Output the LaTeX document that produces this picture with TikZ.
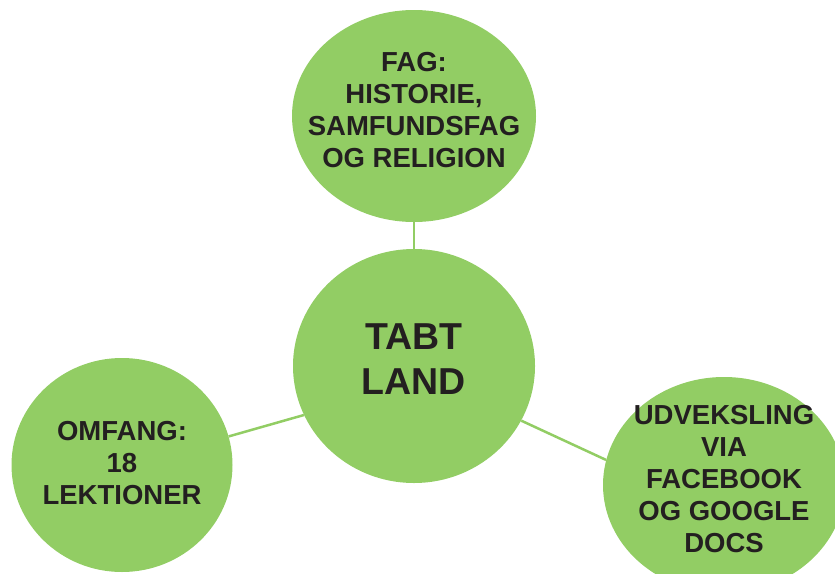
\documentclass[tikz,border=0pt]{standalone}
\usepackage{fontspec}
\setmainfont{Liberation Sans}
\usetikzlibrary{shapes.geometric}
\definecolor{leaf}{HTML}{92CD64}
\definecolor{ink}{HTML}{231F20}
\tikzset{
  blob/.style={ellipse, fill=leaf, draw=none, inner sep=0pt},
  lbl/.style={text=ink, align=center, inner sep=0pt, font=\fontsize{27.5}{32}\selectfont\bfseries},
  biglbl/.style={text=ink, align=center, inner sep=0pt, font=\fontsize{37.5}{45}\selectfont\bfseries},
  link/.style={draw=leaf, line width=2.5pt}
}
\begin{document}
\begin{tikzpicture}[x=1pt,y=-1pt]
\useasboundingbox (0,0) rectangle (835,573);
\clip (0,0) rectangle (835,573);
\node[blob, minimum width=244pt, minimum height=212pt] (top) at (414,116) {};
\node[blob, minimum width=242pt, minimum height=234pt] (mid) at (414,366) {};
\node[blob, minimum width=221pt, minimum height=214pt] (left) at (122,465) {};
\node[blob, minimum width=242pt, minimum height=216pt] (right) at (724,485) {};
\draw[link] (top.270) -- (mid.90);
\draw[link] (mid.204) -- (left.15);
\draw[link] (mid.333) -- (right.168);
\node[lbl] (toptext) at (414,110) {FAG:\\HISTORIE,\\SAMFUNDSFAG\\OG RELIGION};
\node[biglbl] (midtext) at (414,359) {TABT\\LAND};
\node[lbl] (lefttext) at (122,463) {OMFANG:\\18\\LEKTIONER};
\node[lbl] (righttext) at (724,479) {UDVEKSLING\\VIA\\FACEBOOK\\OG GOOGLE\\DOCS};
\end{tikzpicture}
\end{document}
